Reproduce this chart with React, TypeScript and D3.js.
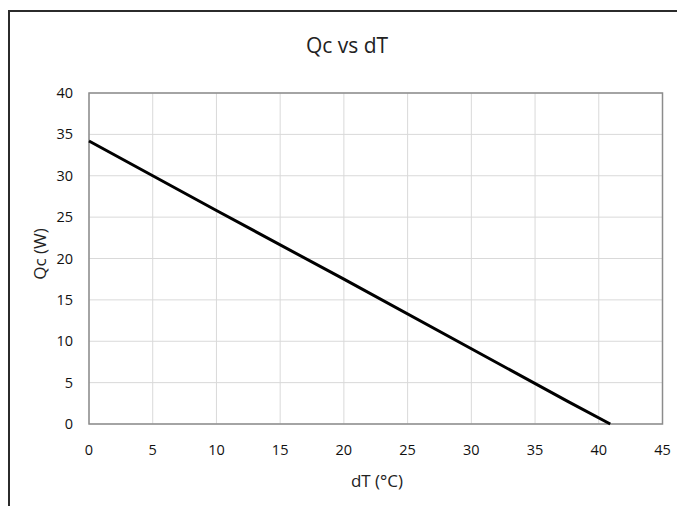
import React from "react";
import * as d3 from "d3";

const dT = [0, 10, 20, 30, 37.6, 40.9];
const Qc = [34.2, 25.8, 17.5, 9.1, 2.7, 0];
const xTicks = [0, 5, 10, 15, 20, 25, 30, 35, 40, 45];
const yTicks = [0, 5, 10, 15, 20, 25, 30, 35, 40];

const W = 677;
const H = 506;
const L = 89, R = 662.5, T = 93, B = 424;
const font = "'Open Sans', sans-serif";

export default function App() {
  const x = d3.scaleLinear().domain([0, 45]).range([L, R]);
  const y = d3.scaleLinear().domain([0, 40]).range([B, T]);
  const pts = dT.map((d, i) => [d, Qc[i]] as [number, number]);
  const line = d3.line<[number, number]>().x(d => x(d[0])).y(d => y(d[1]))(pts) || "";
  return (
    <svg width={W} height={H} style={{ position: "absolute", left: 0, top: 0, background: "#fff" }}>
      <rect x={9} y={11} width={W + 20} height={H + 20} fill="#fff" stroke="#2b2b2b" strokeWidth={2} />
      {xTicks.map(t => (
        <line key={"gx" + t} x1={x(t)} x2={x(t)} y1={T} y2={B} stroke="#d9d9d9" strokeWidth={1} />
      ))}
      {yTicks.map(t => (
        <line key={"gy" + t} x1={L} x2={R} y1={y(t)} y2={y(t)} stroke="#d9d9d9" strokeWidth={1} />
      ))}
      <rect x={L} y={T} width={R - L} height={B - T} fill="none" stroke="#8c8c8c" strokeWidth={1.5} />
      {yTicks.map(t => (
        <text key={"ty" + t} x={73} y={y(t) + 5} textAnchor="end" fontFamily={font} fontSize={14.5} fill="#111">{t}</text>
      ))}
      {xTicks.map(t => (
        <text key={"tx" + t} x={x(t)} y={455} textAnchor="middle" fontFamily={font} fontSize={14.5} fill="#111">{t}</text>
      ))}
      <path d={line} fill="none" stroke="#000" strokeWidth={3} strokeLinejoin="round" />
      <text x={347} y={53} textAnchor="middle" fontFamily={font} fontSize={21} fill="#222">Qc vs dT</text>
      <text x={377} y={487} textAnchor="middle" fontFamily={font} fontSize={17} fill="#222">dT (°C)</text>
      <text transform={`translate(46, 254) rotate(-90)`} textAnchor="middle" fontFamily={font} fontSize={17} fill="#222">Qc (W)</text>
    </svg>
  );
}
